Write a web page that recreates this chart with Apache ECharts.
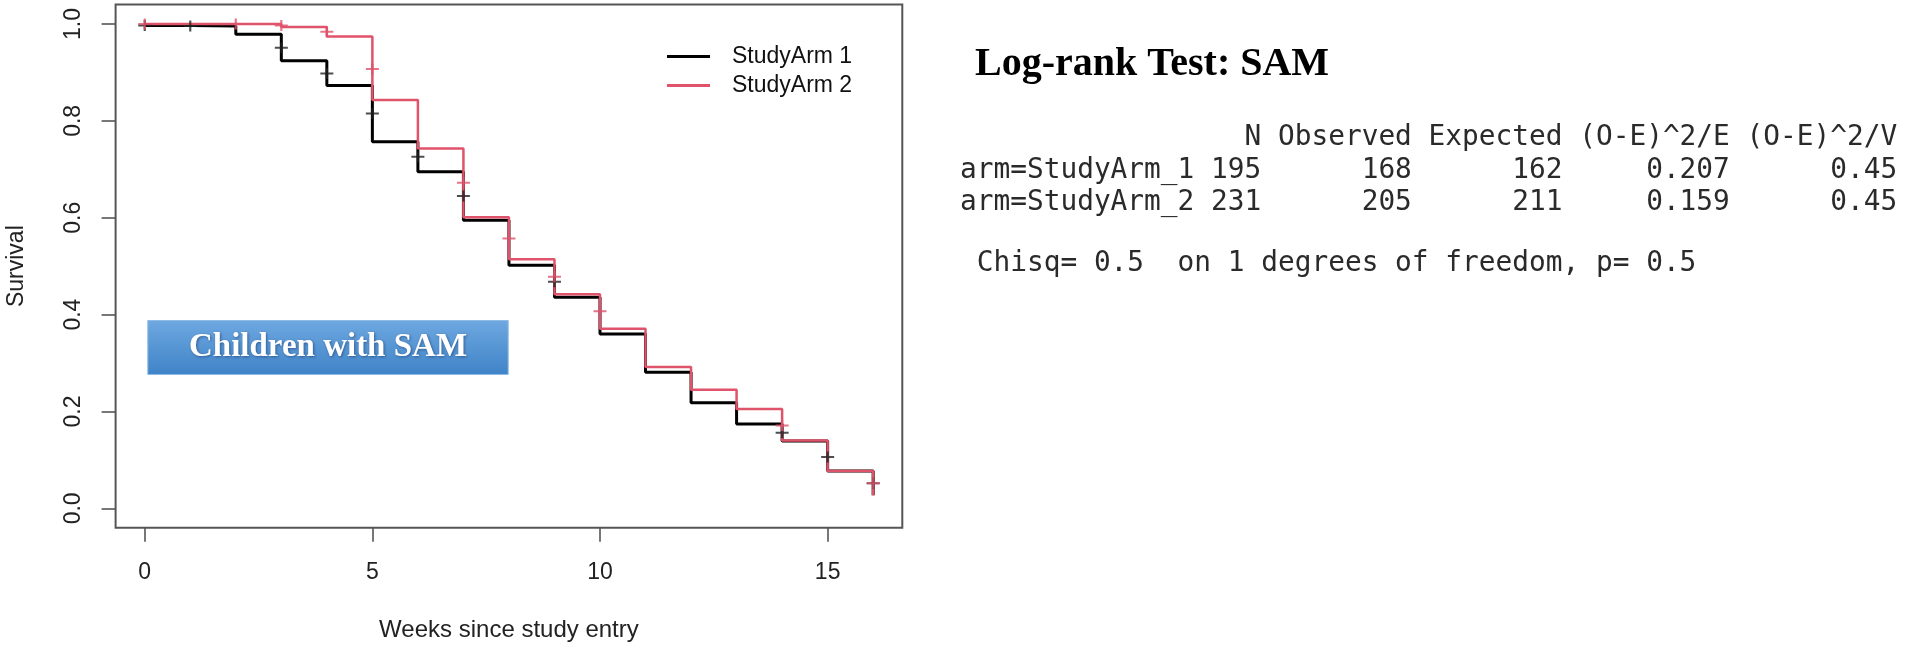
<!DOCTYPE html>
<html>
<head>
<meta charset="utf-8">
<script src="https://cdn.jsdelivr.net/npm/echarts@6/dist/echarts.min.js"></script>
<style>
  html, body { margin: 0; padding: 0; background: #fff; }
  #chart { width: 1905px; height: 649px; }
</style>
</head>
<body>
<div id="chart"></div>
<script>
// ---- data ----
const weeks = [0, 1, 2, 3, 4, 5, 6, 7, 8, 9, 10, 11, 12, 13, 14, 15, 16];
const arm1Survival = [0.997, 0.996, 0.979, 0.924, 0.873, 0.757, 0.695, 0.595, 0.502, 0.436, 0.360, 0.281, 0.218, 0.174, 0.139, 0.077, 0.027];
const arm2Survival = [1.000, 1.000, 1.000, 0.994, 0.974, 0.843, 0.743, 0.601, 0.514, 0.442, 0.371, 0.292, 0.245, 0.205, 0.140, 0.077, 0.027];

const arm1CensorWeeks = [0, 1, 3, 4, 5, 6, 7, 9, 14, 15, 16];
const arm1CensorSurvival = [0.997, 0.996, 0.951, 0.898, 0.815, 0.726, 0.645, 0.468, 0.156, 0.106, 0.052];
const arm2CensorWeeks = [0, 2, 3, 4, 5, 7, 8, 9, 10, 14, 16];
const arm2CensorSurvival = [1.000, 1.000, 0.997, 0.984, 0.907, 0.672, 0.557, 0.478, 0.407, 0.171, 0.052];

const seriesNames = ['StudyArm 1', 'StudyArm 2'];
const xTicks = [0, 5, 10, 15];
const yTicks = [0, 0.2, 0.4, 0.6, 0.8, 1.0];

// log-rank table
const tableGroups = ['arm=StudyArm_1', 'arm=StudyArm_2'];
const tableN = ['195', '231'];
const tableObserved = ['168', '205'];
const tableExpected = ['162', '211'];
const tableOE2E = ['0.207', '0.159'];
const tableOE2V = ['0.45', '0.45'];
const chisqLine = ' Chisq= 0.5  on 1 degrees of freedom, p= 0.5';
const panelTitle = 'Log-rank Test: SAM';
const boxLabel = 'Children with SAM';

// ---- build ----
const zip = (xs, ys) => xs.map((x, i) => [x, ys[i]]);
const headerLine = ' '.repeat(14) + ' ' + 'N'.padStart(3) + ' ' + 'Observed' + ' ' + 'Expected' + ' ' + '(O-E)^2/E' + ' ' + '(O-E)^2/V';
const rowLines = tableGroups.map((g, i) =>
  g + ' ' + tableN[i].padStart(3) + ' ' + tableObserved[i].padStart(8) + ' ' +
  tableExpected[i].padStart(8) + ' ' + tableOE2E[i].padStart(9) + ' ' + tableOE2V[i].padStart(9));

const plusPath = 'path://M0,4.5 H12 V6.5 H0 Z M5,0 H7 V11 H5 Z';
const black = '#000000';
const red = '#DF536B';
const sansFont = '"Liberation Sans", Arial, sans-serif';
const monoFont = '"DejaVu Sans Mono", monospace';
const serifFont = '"Liberation Serif", "Times New Roman", serif';

const chart = echarts.init(document.getElementById('chart'), null, { renderer: 'canvas' });

const monoTexts = [headerLine, rowLines[0], rowLines[1], chisqLine];
const monoBaselines = [147, 180, 212, 273];

const option = {
  animation: false,
  backgroundColor: '#ffffff',
  grid: {
    left: 115.6, top: 4.6, right: 1002.7, bottom: 121.3,
    show: true, borderColor: '#555', borderWidth: 2, backgroundColor: 'transparent'
  },
  legend: {
    data: seriesNames,
    orient: 'vertical',
    left: 662, top: 40,
    icon: 'rect',
    itemWidth: 43, itemHeight: 3, itemGap: 6,
    textStyle: { fontFamily: sansFont, fontSize: 23, color: '#111', lineHeight: 23, padding: [0, 0, 0, 17] }
  },
  xAxis: {
    type: 'value', min: -0.64, max: 16.64,
    name: 'Weeks since study entry', nameLocation: 'middle', nameGap: 91,
    nameTextStyle: { fontFamily: sansFont, fontSize: 24, color: '#222' },
    axisLine: { show: false, onZero: false },
    axisTick: { show: true, customValues: xTicks, length: 14, lineStyle: { color: '#555', width: 1.6 } },
    axisLabel: { customValues: xTicks, margin: 33, fontFamily: sansFont, fontSize: 23, color: '#222' },
    splitLine: { show: false }
  },
  yAxis: {
    type: 'value', min: -0.04, max: 1.04,
    name: 'Survival', nameLocation: 'middle', nameGap: 87,
    nameTextStyle: { fontFamily: sansFont, fontSize: 23, color: '#222' },
    axisLine: { show: false, onZero: false },
    axisTick: { show: true, customValues: yTicks, length: 14, lineStyle: { color: '#555', width: 1.6 } },
    axisLabel: { customValues: yTicks, margin: 30, rotate: 90, fontFamily: sansFont, fontSize: 23, color: '#222',
      formatter: v => v.toFixed(1) },
    splitLine: { show: false }
  },
  series: [
    { name: seriesNames[0], type: 'line', step: 'end', data: zip(weeks, arm1Survival),
      symbol: 'none', lineStyle: { color: black, width: 3 }, itemStyle: { color: black }, z: 2 },
    { name: seriesNames[1], type: 'line', step: 'end', data: zip(weeks, arm2Survival),
      symbol: 'none', lineStyle: { color: red, width: 2.5 }, itemStyle: { color: red }, z: 3 },
    { name: 'censor1', type: 'scatter', data: zip(arm1CensorWeeks, arm1CensorSurvival),
      symbol: plusPath, symbolSize: [13, 11], itemStyle: { color: '#222' }, z: 4 },
    { name: 'censor2', type: 'scatter', data: zip(arm2CensorWeeks, arm2CensorSurvival),
      symbol: plusPath, symbolSize: [13, 11], itemStyle: { color: red }, z: 5 }
  ],
  graphic: [
    {
      type: 'group', left: 147.3, top: 320,
      children: [
        { type: 'rect', shape: { x: 0, y: 0, width: 360.4, height: 54 },
          style: {
            fill: new echarts.graphic.LinearGradient(0, 0, 0, 1, [
              { offset: 0, color: '#6ea8e0' }, { offset: 1, color: '#3f83c8' }
            ]),
            stroke: '#8fbbe6', lineWidth: 1
          } },
        { type: 'text', x: 180.2, y: 27,
          style: { text: boxLabel, fill: '#ffffff', font: 'bold 33px ' + serifFont,
            align: 'center', verticalAlign: 'middle',
            textShadowColor: 'rgba(20,50,100,0.6)', textShadowBlur: 3, textShadowOffsetX: 1, textShadowOffsetY: 1 } }
      ]
    },
    { type: 'text', x: 975, y: 65,
      style: { text: panelTitle, fill: '#000', font: 'bold 40px ' + serifFont, align: 'left', verticalAlign: 'middle' } }
  ].concat(monoTexts.map((t, i) => ({
    type: 'text', x: 960, y: monoBaselines[i] - 9.5,
    style: { text: t, fill: '#2a2a2a', font: '27.8px ' + monoFont, align: 'left', verticalAlign: 'middle' }
  })))
};

chart.setOption(option);
</script>
</body>
</html>
